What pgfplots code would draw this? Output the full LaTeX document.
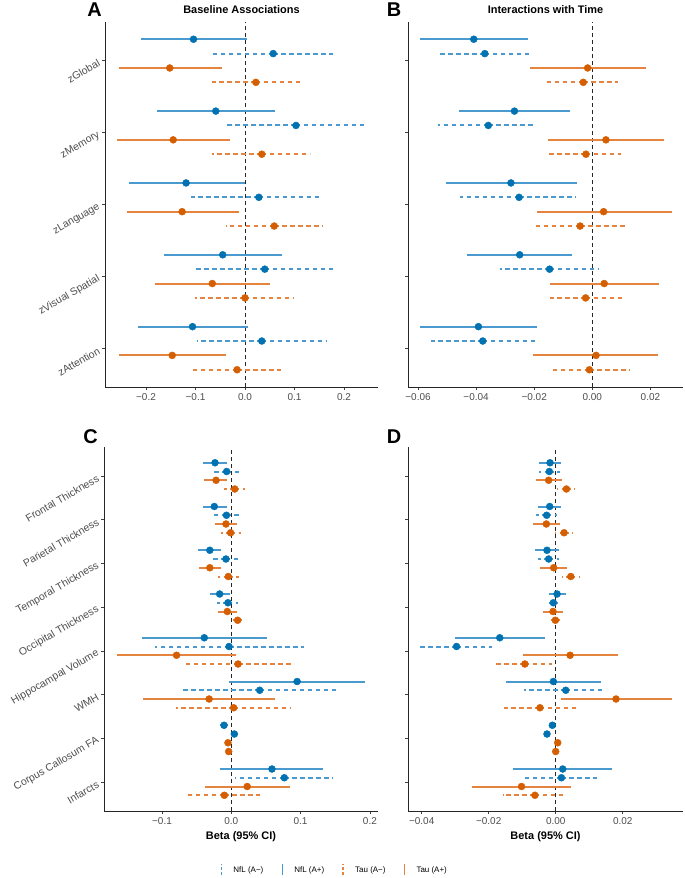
\documentclass[border=0pt]{standalone}
\usepackage{fontspec}
\setmainfont{Liberation Sans}
\usepackage{pgfplots}
\usepackage{pgfplotstable}
\pgfplotsset{compat=1.18}

\definecolor{nblue}{HTML}{0072B2}
\definecolor{nblueL}{HTML}{4A9ACF}
\definecolor{torange}{HTML}{D55E00}
\definecolor{torangeL}{HTML}{E5843F}
\definecolor{txtgray}{HTML}{4D4D4D}

% columns: c = category; np = NfL (A+), nm = NfL (A-), tp = Tau (A+), tm = Tau (A-)
% suffix l / h = lower / upper 95% CI
\pgfplotstableread{
c np npl nph nm nml nmh tp tpl tph tm tml tmh
1 -0.104 -0.211 0.005 0.057 -0.071 0.177 -0.152 -0.255 -0.047 0.022 -0.067 0.113
2 -0.059 -0.178 0.061 0.103 -0.037 0.244 -0.145 -0.259 -0.031 0.034 -0.067 0.131
3 -0.119 -0.235 0.000 0.028 -0.109 0.157 -0.127 -0.238 -0.013 0.059 -0.039 0.157
4 -0.045 -0.164 0.074 0.040 -0.100 0.179 -0.066 -0.181 0.050 0.000 -0.101 0.098
5 -0.106 -0.216 0.007 0.034 -0.097 0.165 -0.147 -0.254 -0.039 -0.016 -0.109 0.072
}\tabA

\pgfplotstableread{
c np npl nph nm nml nmh tp tpl tph tm tml tmh
1 -0.0408 -0.0592 -0.0222 -0.0370 -0.0534 -0.0205 -0.0016 -0.0213 0.0184 -0.0031 -0.0160 0.0089
2 -0.0268 -0.0459 -0.0076 -0.0358 -0.0531 -0.0193 0.0047 -0.0151 0.0246 -0.0022 -0.0154 0.0098
3 -0.0280 -0.0504 -0.0054 -0.0252 -0.0454 -0.0058 0.0039 -0.0191 0.0273 -0.0042 -0.0195 0.0112
4 -0.0250 -0.0430 -0.0069 -0.0147 -0.0317 0.0021 0.0041 -0.0147 0.0230 -0.0023 -0.0147 0.0102
5 -0.0392 -0.0592 -0.0189 -0.0377 -0.0555 -0.0197 0.0013 -0.0203 0.0227 -0.0010 -0.0147 0.0130
}\tabB

\pgfplotstableread{
c np npl nph nm nml nmh tp tpl tph tm tml tmh
1 -0.0235 -0.041 -0.006 -0.0067 -0.027 0.014 -0.022 -0.039 -0.006 0.005 -0.010 0.020
2 -0.0245 -0.041 -0.0067 -0.007 -0.027 0.013 -0.0077 -0.024 0.0087 -0.001 -0.015 0.014
3 -0.031 -0.048 -0.0144 -0.0077 -0.028 0.0125 -0.031 -0.047 -0.015 -0.0043 -0.019 0.0107
4 -0.0168 -0.031 -0.0024 -0.0048 -0.021 0.010 -0.0058 -0.019 0.0077 0.0092 -0.002 0.015
5 -0.039 -0.129 0.051 -0.0033 -0.110 0.1045 -0.079 -0.165 0.0072 0.0097 -0.067 0.087
6 0.095 -0.003 0.193 0.041 -0.0736 0.1535 -0.032 -0.127 0.0626 0.0034 -0.080 0.086
7 -0.0105 -0.017 -0.005 0.0044 -0.001 0.009 -0.0048 -0.008 -0.001 -0.0038 -0.0067 -0.001
8 0.0587 -0.016 0.133 0.0765 0.0053 0.146 0.023 -0.038 0.0847 -0.010 -0.062 0.042
}\tabC

\pgfplotstableread{
c np npl nph nm nml nmh tp tpl tph tm tml tmh
1 -0.0017 -0.0050 0.0017 -0.0019 -0.0050 0.0012 -0.0021 -0.0059 0.0019 0.0032 0.0005 0.0059
2 -0.0018 -0.0052 0.0015 -0.0027 -0.0058 0.0005 -0.0028 -0.0067 0.0013 0.0025 -0.0002 0.0051
3 -0.0026 -0.0061 0.0010 -0.0021 -0.0052 0.0011 -0.0006 -0.0047 0.0034 0.0045 0.0018 0.0072
4 0.0004 -0.0020 0.0030 -0.0007 -0.0029 0.0009 -0.0008 -0.0037 0.0021 -0.0001 -0.0020 0.0018
5 -0.0167 -0.0301 -0.0033 -0.0296 -0.0405 -0.0189 0.0043 -0.0099 0.0185 -0.0092 -0.0178 -0.0010
6 -0.0007 -0.0149 0.0134 0.0030 -0.0094 0.0147 0.0180 0.0015 0.0346 -0.0047 -0.0153 0.0061
7 -0.0010 -0.0015 -0.0005 -0.0026 -0.0030 -0.0020 0.0006 0.0002 0.0010 0.0000 -0.0004 0.0004
8 0.0021 -0.0126 0.0167 0.0017 -0.0094 0.0122 -0.0102 -0.0249 0.0046 -0.0062 -0.0158 0.0033
}\tabD

\pgfplotsset{
  panel/.style={
    scale only axis,
    clip=false,
    axis x line*=bottom,
    axis y line*=left,
    axis line style={line width=0.8pt, black!85},
    tick align=outside,
    major tick length=3bp,
    tick style={line width=0.6pt, black!75},
    scaled x ticks=false,
    yticklabel style={rotate=30, anchor=east, font=\fontsize{10.5}{12}\selectfont, text=txtgray},
    xticklabel style={font=\fontsize{10}{12}\selectfont, text=txtgray},
    xlabel style={at={(0.5,0)}, anchor=base, yshift=-28bp, font=\bfseries\fontsize{11}{13}\selectfont},
  },
  ciplot/.style={only marks, mark=*, mark size=3.5bp,
    error bars/x dir=both, error bars/x explicit, error bars/error mark=none},
  nAp/.style={ciplot, color=nblue, mark options={draw=nblue, fill=nblue},
    error bars/error bar style={color=nblueL, line width=2bp, solid}},
  nAm/.style={ciplot, color=nblue, mark options={draw=nblue, fill=nblue, solid},
    error bars/error bar style={color=nblueL, line width=2bp, dash pattern=on 4.5bp off 3.5bp}},
  tAp/.style={ciplot, color=torange, mark options={draw=torange, fill=torange},
    error bars/error bar style={color=torangeL, line width=2bp, solid}},
  tAm/.style={ciplot, color=torange, mark options={draw=torange, fill=torange, solid},
    error bars/error bar style={color=torangeL, line width=2bp, dash pattern=on 4.5bp off 3.5bp}},
}

% #1 table, #2 column, #3 offset, #4 style, #5 number of categories + 1
\newcommand{\ci}[5]{%
  \addplot[forget plot, #4] table[x=#2, y expr={#5-\thisrow{c}+(#3)},
    x error plus expr={\thisrow{#2h}-\thisrow{#2}},
    x error minus expr={\thisrow{#2}-\thisrow{#2l}}] {#1};}
\newcommand{\zeroline}{%
  \draw[line width=0.8pt, black!85, dash pattern=on 4bp off 3bp]
    ({axis cs:0,1}|-{axis description cs:0,0}) -- ({axis cs:0,1}|-{axis description cs:0,1});}
\newcommand{\allseries}[2]{%
  \ci{#1}{np}{0.3}{nAp}{#2}
  \ci{#1}{nm}{0.1}{nAm}{#2}
  \ci{#1}{tp}{-0.1}{tAp}{#2}
  \ci{#1}{tm}{-0.3}{tAm}{#2}}

\begin{document}
\begin{tikzpicture}
\path[use as bounding box] (0,0) rectangle (685bp,-878bp);

% Panel A
\begin{axis}[panel,
  at={(105bp,-387bp)}, anchor=south west,
  width=273bp, height=365bp,
  xmin=-0.2828, xmax=0.2687, ymin=0.46, ymax=5.54,
  xtick={-0.2,-0.1,0,0.1,0.2},
  xticklabels={−0.2,−0.1,0.0,0.1,0.2},
  ytick={1,...,5},
  yticklabels={zAttention,zVisual Spatial,zLanguage,zMemory,zGlobal},
]
\zeroline
\allseries{\tabA}{6}
\end{axis}

% Panel B
\begin{axis}[panel,
  at={(408bp,-387bp)}, anchor=south west,
  width=275bp, height=365bp,
  xmin=-0.06344, xmax=0.03122, ymin=0.46, ymax=5.54,
  xtick={-0.06,-0.04,-0.02,0,0.02},
  xticklabels={−0.06,−0.04,−0.02,0.00,0.02},
  ytick={1,...,5}, yticklabels={},
]
\zeroline
\allseries{\tabB}{6}
\end{axis}

% Panel C
\begin{axis}[panel,
  at={(104bp,-811bp)}, anchor=south west,
  width=274bp, height=364bp,
  xmin=-0.1837, xmax=0.2117, ymin=0.34, ymax=8.66,
  xtick={-0.1,0,0.1,0.2},
  xticklabels={−0.1,0.0,0.1,0.2},
  ytick={1,...,8},
  yticklabels={Infarcts,Corpus Callosum FA,WMH,Hippocampal Volume,Occipital Thickness,Temporal Thickness,Parietal Thickness,Frontal Thickness},
  xlabel={Beta (95\% CI)},
  legend columns=4,
  legend style={at={(0.84,-0.162)}, anchor=center, draw=none, fill=none,
    font=\fontsize{8}{9}\selectfont,
    /tikz/every even column/.append style={column sep=15bp}},
  legend image code/.code={\draw[#1] (0bp,-5.5bp) -- (0bp,5.5bp); \path[draw=none] (-2bp,0bp) -- (10bp,0bp);},
]
\addlegendimage{nblueL, line width=1.6bp, dash pattern=on 3bp off 2bp}
\addlegendentry{NfL (A−)}
\addlegendimage{nblueL, line width=1.6bp}
\addlegendentry{NfL (A+)}
\addlegendimage{torangeL, line width=1.6bp, dash pattern=on 3bp off 2bp}
\addlegendentry{Tau (A−)}
\addlegendimage{torangeL, line width=1.6bp}
\addlegendentry{Tau (A+)}
\zeroline
\allseries{\tabC}{9}
\end{axis}

% Panel D
\begin{axis}[panel,
  at={(408bp,-811bp)}, anchor=south west,
  width=275bp, height=364bp,
  xmin=-0.04409, xmax=0.0380, ymin=0.34, ymax=8.66,
  xtick={-0.04,-0.02,0,0.02},
  xticklabels={−0.04,−0.02,0.00,0.02},
  ytick={1,...,8}, yticklabels={},
  xlabel={Beta (95\% CI)},
]
\zeroline
\allseries{\tabD}{9}
\end{axis}

% titles and panel letters
\node[anchor=base, font=\bfseries\fontsize{11}{13}\selectfont] at (241.5bp,-13.5bp) {Baseline Associations};
\node[anchor=base, font=\bfseries\fontsize{11}{13}\selectfont] at (545.5bp,-13.5bp) {Interactions with Time};
\node[font=\bfseries\fontsize{20}{22}\selectfont] at (94.5bp,-10bp) {A};
\node[font=\bfseries\fontsize{20}{22}\selectfont] at (394bp,-10bp) {B};
\node[font=\bfseries\fontsize{20}{22}\selectfont] at (90.5bp,-437bp) {C};
\node[font=\bfseries\fontsize{20}{22}\selectfont] at (394bp,-437bp) {D};
\end{tikzpicture}
\end{document}
